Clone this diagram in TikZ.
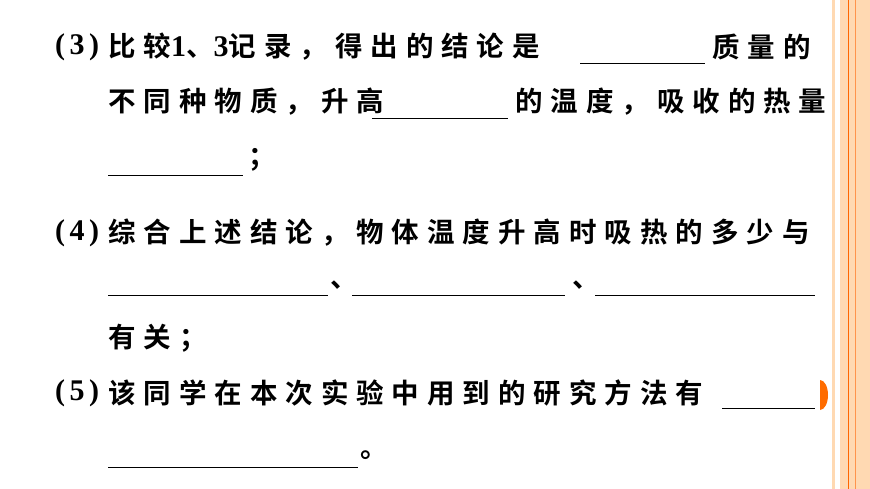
\documentclass[tikz,border=0pt]{standalone}
\usepackage{fontspec}
\newfontfamily\cjk[LetterSpace=29,BoldFont={Noto Sans CJK SC Bold}]{Noto Sans CJK SC}
\newfontfamily\rmnum[LetterSpace=15]{Liberation Serif}
\begin{document}
\begin{tikzpicture}[x=1pt,y=-1pt,
  t/.style={anchor=west,inner sep=0pt,font=\cjk\bfseries\fontsize{27.5}{27.5}\selectfont},
  n/.style={anchor=west,inner sep=0pt,font=\rmnum\bfseries\fontsize{30}{30}\selectfont},
  ul/.style={line width=0.9pt}]
\useasboundingbox (0,0) rectangle (870,489);
\fill[white] (0,0) rectangle (870,489);
\fill[orange!30!white] (832,0) rectangle (834.5,489);
\fill[orange!30!white] (840,0) rectangle (870,489);
\draw[orange!80!red,line width=0.6pt] (848,0) -- (848,489);
\draw[orange!80!red!70!white,line width=0.4pt] (855,0) -- (855,489);
\fill[orange!85!red] (820,410) arc (90:-90:8 and 15) -- cycle;
% line 1
\node[n] (a1) at (55,47) {(3)};
\node[t] (b1) at (108,47) {比较{\rmnum\fontsize{30}{30}\selectfont 1}、{\rmnum\fontsize{30}{30}\selectfont 3}记录，得出的结论是};
\coordinate (u1a) at (580,63); \coordinate (u1b) at (705,63);
\draw[ul] (u1a) -- (u1b);
\node[t] (c1) at (712,47) {质量的};
% line 2
\node[t] (b2) at (108,102) {不同种物质，升高};
\coordinate (u2a) at (372,118); \coordinate (u2b) at (508,118);
\draw[ul] (u2a) -- (u2b);
\node[t] (c2) at (515,102) {的温度，吸收的热量};
% line 3
\coordinate (u3a) at (108,175); \coordinate (u3b) at (243,175);
\draw[ul] (u3a) -- (u3b);
\node[t] (c3) at (248,160) {；};
% line 4
\node[n] (a4) at (55,233) {(4)};
\node[t] (b4) at (108,233) {综合上述结论，物体温度升高时吸热的多少与};
% line 5
\coordinate (u5a) at (108,295); \coordinate (u5b) at (328,295);
\coordinate (u5c) at (352,295); \coordinate (u5d) at (565,295);
\coordinate (u5e) at (595,295); \coordinate (u5f) at (815,295);
\draw[ul] (u5a) -- (u5b); \draw[ul] (u5c) -- (u5d); \draw[ul] (u5e) -- (u5f);
\node[t] (d5) at (330,285) {、};
\node[t] (e5) at (572,285) {、};
% line 6
\node[t] (b6) at (108,338) {有关；};
% line 7
\node[n] (a7) at (55,393) {(5)};
\node[t] (b7) at (108,393) {该同学在本次实验中用到的研究方法有};
\coordinate (u7a) at (722,408); \coordinate (u7b) at (815,408);
\draw[ul] (u7a) -- (u7b);
% line 8
\coordinate (u8a) at (108,467); \coordinate (u8b) at (358,467);
\draw[ul] (u8a) -- (u8b);
\node[t] (c8) at (360,455) {。};
\end{tikzpicture}
\end{document}
